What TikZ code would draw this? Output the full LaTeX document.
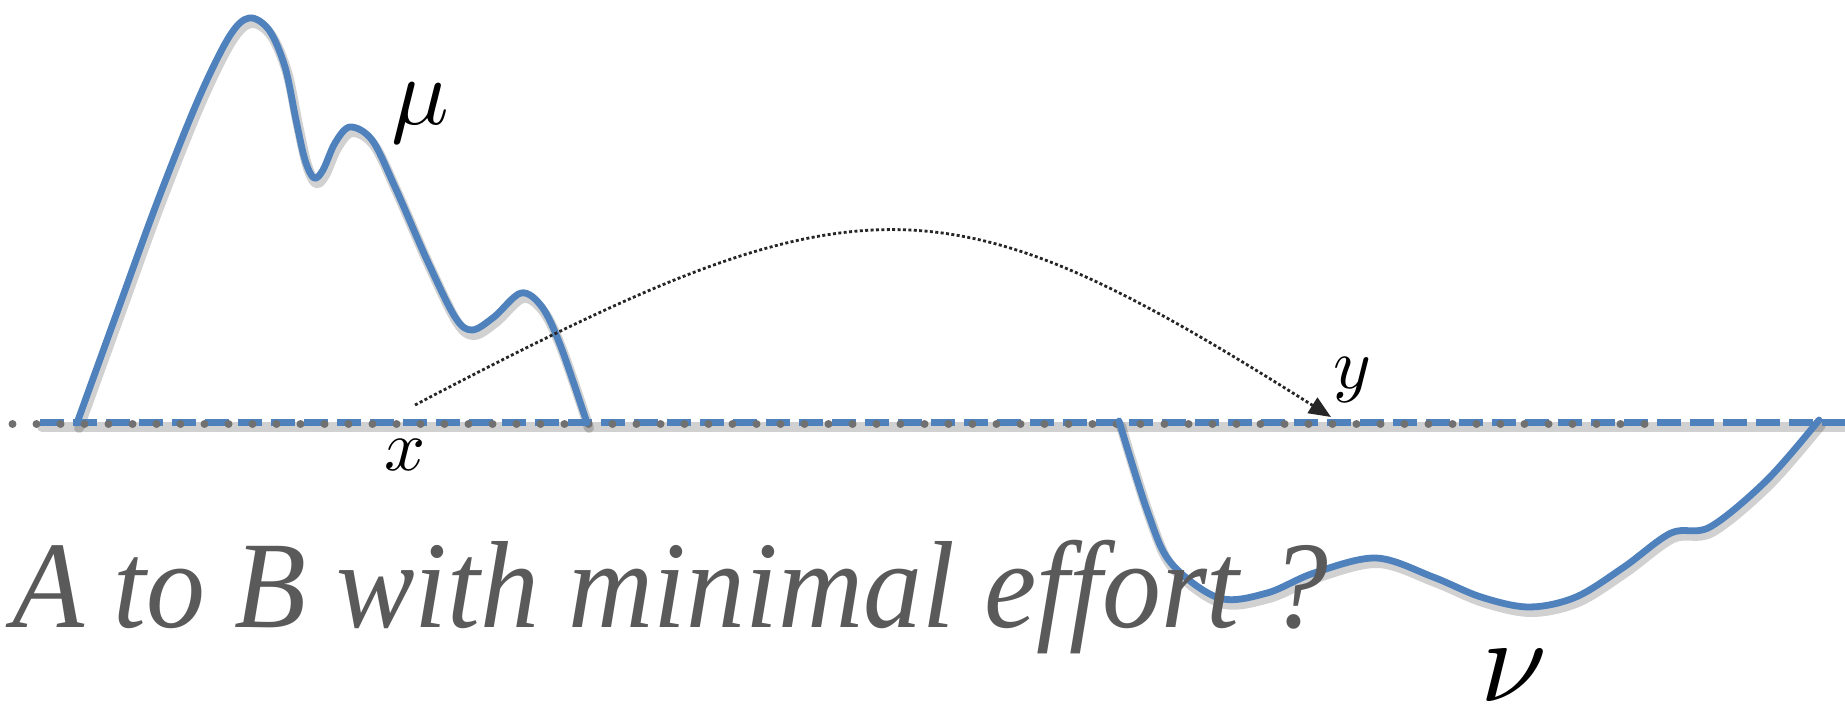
\documentclass[tikz,border=0pt]{standalone}
\usepackage{fontspec}
\newfontfamily\qfont{Liberation Serif}
\usetikzlibrary{arrows.meta}
\definecolor{curveblue}{HTML}{4F81BD}
\definecolor{dotgray}{HTML}{707070}
\definecolor{textgray}{HTML}{5A5A5A}
\tikzset{
  curve/.style={curveblue, line width=3.4pt, line join=round, line cap=round},
  curveshadow/.style={black, opacity=0.18, line width=5pt, line join=round, line cap=round},
  bluedash/.style={curveblue, line width=3.5pt, dash pattern=on 12pt off 4.5pt},
  graydots/.style={dotgray, line width=4pt, line cap=round, dash pattern=on 0pt off 12pt},
  transport/.style={black!85, line width=1.4pt, dash pattern=on 1.5pt off 1.2pt, -{Triangle[length=11pt,width=9pt]}},
  lbl/.style={inner sep=0pt, text=black},
}
\begin{document}
\begin{tikzpicture}[x=0.5pt, y=-0.5pt]
\useasboundingbox (0,0) rectangle (1845,721);

% shadows
\begin{scope}[shift={(2,5)}]
\draw[curveshadow] (40,422) -- (1845,422);
\draw[curveshadow] plot[smooth, tension=0.55] coordinates {
 (77,423) (119,307) (158,200) (198,100) (229,37) (249,18) (269,30) (285,67)
 (296,120) (305,160) (314,178) (323,170) (335,143) (350,127) (372,140) (395,187) (427,260)
 (455,317) (472,330) (494,317) (521,293) (542,307) (561,347) (587,423)};
\draw[curveshadow] plot[smooth, tension=0.55] coordinates {
 (1119,421) (1148,513) (1171,563) (1219,598) (1267,593) (1314,573) (1376,558)
 (1433,577) (1481,597) (1529,607) (1576,597) (1624,567) (1671,533) (1710,527)
 (1767,480) (1819,420)};
\end{scope}

% baseline
\draw[bluedash] (40,422) -- (1845,422);
\draw[graydots] (12.5,424) -- (1645,424);

% mu density
\draw[curve] plot[smooth, tension=0.55] coordinates {
 (77,423) (119,307) (158,200) (198,100) (229,37) (249,18) (269,30) (285,67)
 (296,120) (305,160) (314,178) (323,170) (335,143) (350,127) (372,140) (395,187) (427,260)
 (455,317) (472,330) (494,317) (521,293) (542,307) (561,347) (587,423)};

% nu density
\draw[curve] plot[smooth, tension=0.55] coordinates {
 (1119,421) (1148,513) (1171,563) (1219,598) (1267,593) (1314,573) (1376,558)
 (1433,577) (1481,597) (1529,607) (1576,597) (1624,567) (1671,533) (1710,527)
 (1767,480) (1819,420)};

% labels
\node[lbl, scale=4.8] (mu) at (420,113) {$\mu$};
\node[lbl, scale=6] (nu) at (1514,676) {$\nu$};
\node[lbl, scale=3.6] (xl) at (405,455) {$x$};
\node[lbl, scale=3.6] (yl) at (1352,380) {$y$};

% transport arrow
\coordinate (xp) at (415,405);
\coordinate (yp) at (1331,417);
\draw[transport] (xp) .. controls (861,171) and (941,171) .. (yp);

% question
\node[anchor=base west, inner sep=0pt, text=textgray, xscale=0.95,
      font=\fontsize{62}{70}\selectfont\qfont\itshape] (q) at (12,627)
      {A to B with minimal effort ?};
\end{tikzpicture}
\end{document}
